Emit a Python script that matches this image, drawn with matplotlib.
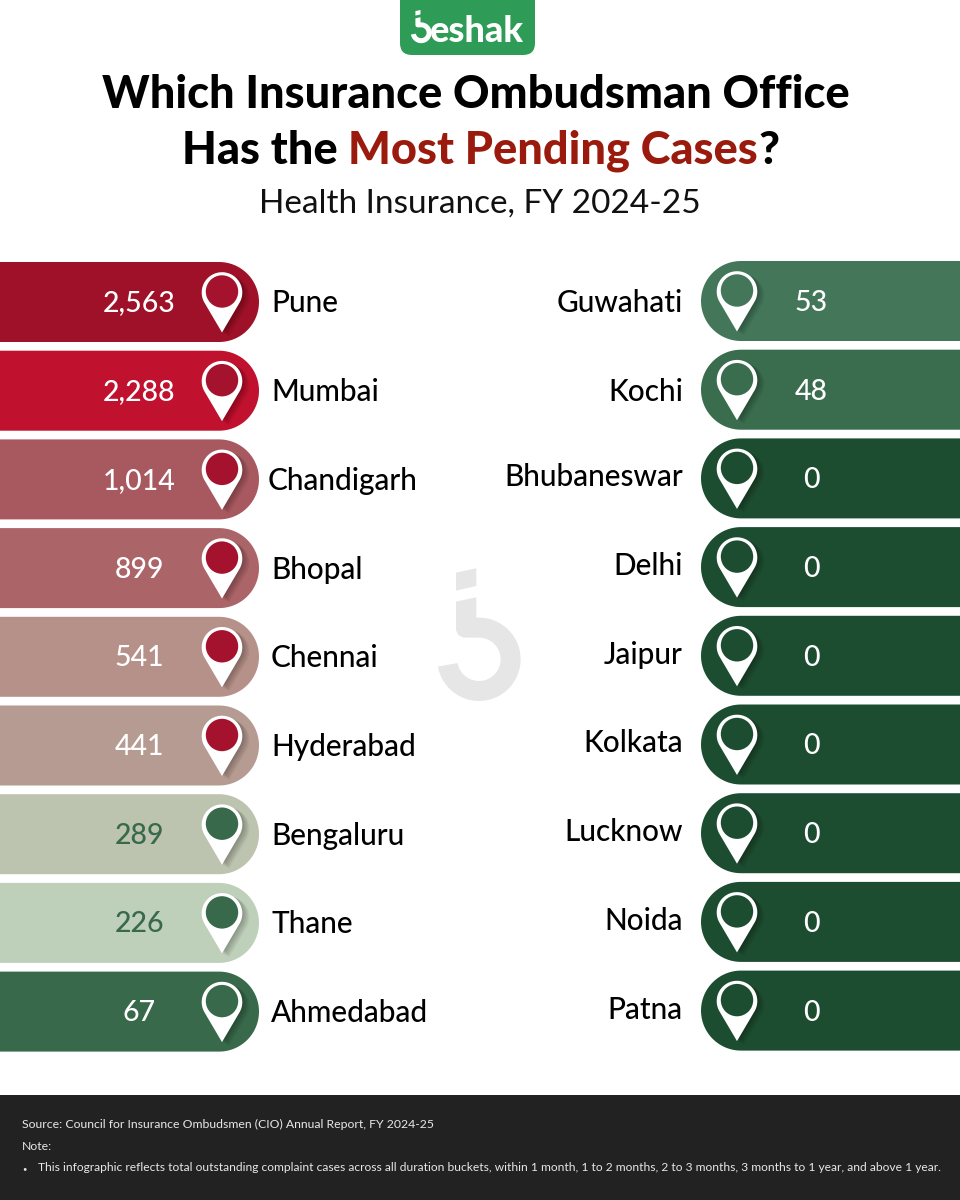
import matplotlib
matplotlib.use('Agg')
import matplotlib.pyplot as plt
import numpy as np
from matplotlib.patches import Circle, FancyBboxPatch, Polygon, Rectangle

plt.rcParams['font.family'] = ['Lato', 'DejaVu Sans']

# left column
left_cities = ['Pune', 'Mumbai', 'Chandigarh', 'Bhopal', 'Chennai', 'Hyderabad', 'Bengaluru', 'Thane', 'Ahmedabad']
left_values = [2563, 2288, 1014, 899, 541, 441, 289, 226, 67]
# right column
right_cities = ['Guwahati', 'Kochi', 'Bhubaneswar', 'Delhi', 'Jaipur', 'Kolkata', 'Lucknow', 'Noida', 'Patna']
right_values = [53, 48, 0, 0, 0, 0, 0, 0, 0]

left_colors = ['#9E1128', '#C0112E', '#A85960', '#AB6468', '#B69189', '#B59B91', '#BCC3AF', '#BFD0BA', '#38694B']
left_pins = ['#A5122D'] * 6 + ['#38694B'] * 3
left_text = ['white'] * 6 + ['#38694B'] * 2 + ['white']
right_colors = ['#44775A', '#3A6C4E'] + ['#1D4D30'] * 7

ROW_H = 80
PITCH = 88.7
RADIUS = 40

fig = plt.figure(figsize=(9.6, 12), dpi=100)
ax = fig.add_axes([0, 0, 1, 1])
ax.set_xlim(0, 960)
ax.set_ylim(1200, 0)
ax.axis('off')


def draw_mark(x0, y0, s, color, z=1):
    # the brand "j" mark, traced from the watermark
    def tr(pts):
        pts = np.array(pts, dtype=float)
        return np.column_stack([x0 + s * (pts[:, 0] - 115), y0 + s * (pts[:, 1] - 55)])

    ax.add_patch(Polygon(tr([(168, 68), (229, 55), (229, 108), (168, 122)]), color=color, lw=0, zorder=z))
    t = np.radians(np.linspace(-90, 170, 60))
    outer = np.column_stack([237 + 125 * np.cos(t), 328 + 125 * np.sin(t)])
    inner = np.column_stack([237 + 65 * np.cos(t[::-1]), 328 + 65 * np.sin(t[::-1])])
    stem = [(190, 263), (175, 255), (168, 240), (168, 155), (229, 142), (229, 203)]
    ax.add_patch(Polygon(np.vstack([tr(stem), tr(outer), tr(inner)]), color=color, lw=0, zorder=z))


def pin_outline(cx, cy, r, tip):
    # circle plus tangent lines down to the tip
    a = np.arccos(r / (tip - cy))
    t = np.linspace(-np.pi / 2 + a, 1.5 * np.pi - a, 80)
    circle = np.column_stack([cx + r * np.cos(t), cy - r * np.sin(t)])
    return np.vstack([circle, [cx, tip]])


def draw_pin(cx, top, fill, bar):
    cy = top + 30.5
    outline = pin_outline(cx, cy, 20.3, top + 70.5)
    for i in range(1, 9):
        shadow = Polygon(outline + [i * 0.9, i * 0.5], color='black', alpha=0.035, lw=0, zorder=3)
        ax.add_patch(shadow)
        shadow.set_clip_path(bar)
    ax.add_patch(Polygon(outline, color='white', lw=0, zorder=4))
    ax.add_patch(Circle((cx, cy - 1), 16.2, color=fill, lw=0, zorder=5))


def draw_bar(edge, top, color, side):
    # side=1: round end on the right, side=-1: round end on the left
    t = np.linspace(-np.pi / 2, np.pi / 2, 60)
    cx = edge - side * RADIUS
    cap = np.column_stack([cx + side * RADIUS * np.cos(t), top + RADIUS + RADIUS * np.sin(t)])
    far = -40 if side == 1 else 1000
    pts = np.vstack([[far, top], cap, [far, top + ROW_H]])
    bar = Polygon(pts, color=color, lw=0, zorder=2)
    ax.add_patch(bar)
    return bar


# header
ax.add_patch(FancyBboxPatch((400, -30), 135, 85, boxstyle='round,pad=0,rounding_size=12',
                            color='#2E9B57', lw=0, zorder=2))
draw_mark(411, 10, 1 / 12, 'white', z=3)
ax.text(430, 42, 'eshak', color='white', fontsize=26, fontweight='black', ha='left', va='baseline', zorder=3)

ax.text(476, 108.5, 'Which Insurance Ombudsman Office', color='black', fontsize=32.5, fontweight='black',
        ha='center', va='baseline')

# second title line has three colours, so it is placed piece by piece
fig.canvas.draw()
renderer = fig.canvas.get_renderer()
x = 182
for piece, col in [('Has the ', 'black'), ('Most Pending Cases', '#9A1B0E'), ('?', 'black')]:
    t = ax.text(x, 164, piece, color=col, fontsize=32.5, fontweight='black', ha='left', va='baseline')
    # trailing space is measured with a stand-in character
    probe = ax.text(0, 0, piece.replace(' ', '\u00a0'), fontsize=32.5, fontweight='black')
    x += probe.get_window_extent(renderer).width
    probe.remove()

ax.text(480, 213, 'Health Insurance, FY 2024-25', color='#111111', fontsize=24, ha='center', va='baseline')

draw_mark(438.3, 568.3, 1 / 3, '#E6E6E6', z=1)

# left column
for i, (city, value) in enumerate(zip(left_cities, left_values)):
    top = 262 + i * PITCH
    bar = draw_bar(259, top, left_colors[i], 1)
    draw_pin(222, top, left_pins[i], bar)
    ax.text(139, top + 49.5, f'{value:,}', color=left_text[i], fontsize=20.5, fontweight='medium',
            ha='center', va='baseline', zorder=6)
    lx = 268 if city == 'Chandigarh' else 271
    ax.text(lx, top + 50.5, city, color='black', fontsize=21.4, fontweight='medium',
            ha='left', va='baseline', zorder=6)

# right column
for i, (city, value) in enumerate(zip(right_cities, right_values)):
    top = 261 + i * PITCH
    bar = draw_bar(701, top, right_colors[i], -1)
    draw_pin(737, top, right_colors[i], bar)
    ax.text(811, top + 50, f'{value:,}', color='white', fontsize=20.5, fontweight='medium',
            ha='center', va='baseline', zorder=6)
    ly = top + 51 if i < 2 else top + 48
    ax.text(683, ly, city, color='black', fontsize=21.4, fontweight='medium',
            ha='right', va='baseline', zorder=6)

# footer
ax.add_patch(Rectangle((0, 1095), 960, 105, color='#222222', lw=0, zorder=2))
ax.text(22, 1128, 'Source: Council for Insurance Ombudsmen (CIO) Annual Report, FY 2024-25', color='#E8E8E8',
        fontsize=8.85, ha='left', va='baseline', zorder=3)
ax.text(22, 1150, 'Note:', color='#E8E8E8', fontsize=8.85, ha='left', va='baseline', zorder=3)
ax.text(22, 1171, '\u2022', color='#E8E8E8', fontsize=5.5, ha='left', va='baseline', zorder=3)
ax.text(38, 1171, 'This infographic reflects total outstanding complaint cases across all duration buckets, '
        'within 1 month, 1 to 2 months, 2 to 3 months, 3 months to 1 year, and above 1 year.',
        color='#E8E8E8', fontsize=8.67, ha='left', va='baseline', zorder=3)

fig.savefig('out.png', dpi=100)
